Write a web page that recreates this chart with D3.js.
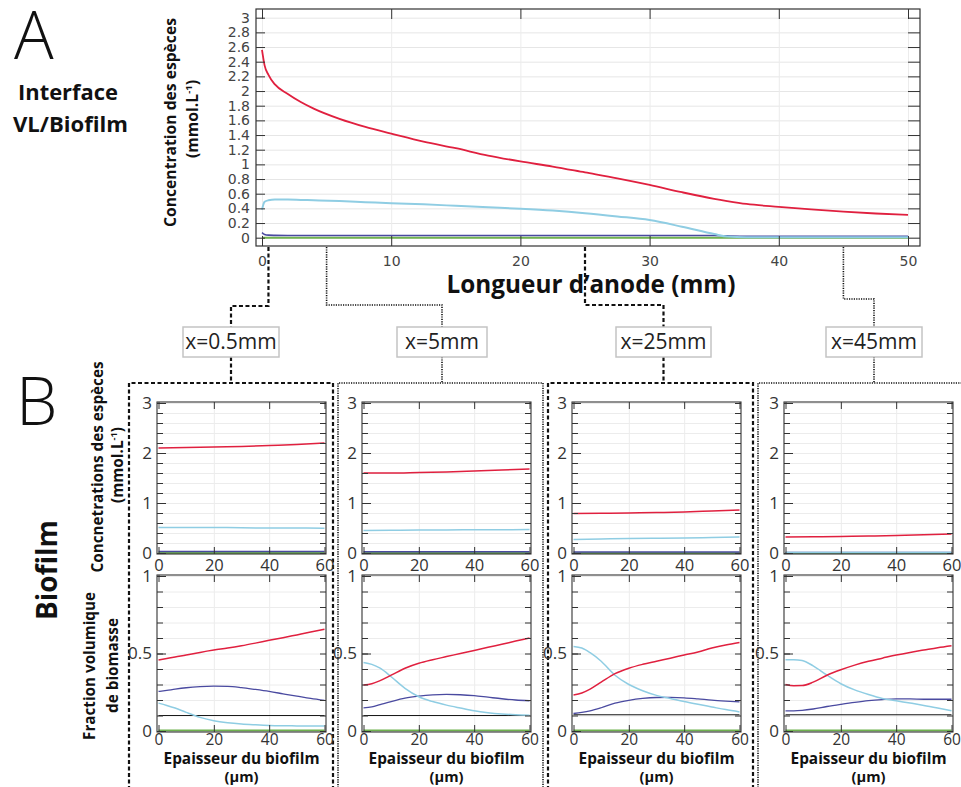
<!DOCTYPE html>
<html><head><meta charset="utf-8">
<script src="https://cdn.jsdelivr.net/npm/d3@7"></script>
<style>body{margin:0;background:#fff}svg{display:block}</style>
</head><body>
<svg id="c" width="961" height="787"></svg>
<script>
// ---------- Panel A data (anode length, mm) ----------
const anodeX     = [0,0.2,0.5,1,2,3,4,6,8,10,12.5,15,17.5,20,22.5,25,27.5,30,32.5,35,36,37.5,40,42.5,45,47.5,50];
const anodeRed   = [2.56,2.35,2.22,2.09,1.96,1.85,1.76,1.62,1.51,1.42,1.31,1.22,1.12,1.04,0.97,0.89,0.81,0.72,0.62,0.53,0.50,0.46,0.42,0.385,0.355,0.33,0.31];
const anodeCyan  = [0.38,0.49,0.51,0.52,0.52,0.515,0.51,0.50,0.485,0.47,0.455,0.435,0.415,0.395,0.37,0.335,0.29,0.24,0.15,0.05,0.015,0.005,0.005,0.005,0.005,0.005,0.005];
const anodeNavy  = [0.07,0.045,0.035,0.032,0.03,0.03,0.03,0.03,0.03,0.03,0.03,0.03,0.03,0.03,0.03,0.03,0.03,0.03,0.03,0.03,0.025,0.02,0.02,0.02,0.02,0.02,0.02];
const anodeGreen = [0,0,0,0,0,0,0,0,0,0,0,0,0,0,0,0,0,0,0,0,0,0,0,0,0,0,0];
const anodeXTicks = [0,10,20,30,40,50];
const anodeYTicks = [0,0.2,0.4,0.6,0.8,1,1.2,1.4,1.6,1.8,2,2.2,2.4,2.6,2.8,3];

// ---------- Panel B data ----------
const positionLabels = ["x=0.5mm","x=5mm","x=25mm","x=45mm"];
const positionValues = [0.5,5,25,45];
const depthTicks = [0,20,40,60];

// concentrations along biofilm depth (µm)
const depthConc = [0,10,20,30,40,50,60];
const concRed = [
  [2.10,2.11,2.12,2.13,2.15,2.17,2.20],
  [1.60,1.60,1.61,1.62,1.64,1.66,1.68],
  [0.79,0.795,0.80,0.81,0.82,0.84,0.86],
  [0.32,0.325,0.33,0.34,0.35,0.365,0.38]];
const concCyan = [
  [0.51,0.51,0.51,0.505,0.50,0.50,0.495],
  [0.45,0.455,0.46,0.46,0.465,0.465,0.47],
  [0.27,0.28,0.29,0.295,0.30,0.31,0.32],
  [0.01,0.01,0.01,0.01,0.01,0.01,0.01]];
const concNavy = [
  [0.03,0.03,0.03,0.03,0.03,0.03,0.03],
  [0.025,0.025,0.025,0.025,0.025,0.025,0.025],
  [0.02,0.02,0.02,0.02,0.02,0.02,0.02],
  [0.01,0.01,0.01,0.01,0.01,0.01,0.01]];
const concGreen = [
  [0,0,0,0,0,0,0],[0,0,0,0,0,0,0],[0,0,0,0,0,0,0],[0,0,0,0,0,0,0]];
const concYTicks = [0,1,2,3];
const concYMinor = [0,0.2,0.4,0.6,0.8,1,1.2,1.4,1.6,1.8,2,2.2,2.4,2.6,2.8,3];

// biomass volume fractions along biofilm depth (µm)
const depthFrac = [0,3,6,10,15,20,25,30,35,40,45,50,55,60];
const fracRed = [
  [0.458,0.468,0.478,0.49,0.507,0.522,0.535,0.55,0.567,0.585,0.602,0.62,0.638,0.657],
  [0.297,0.305,0.325,0.36,0.405,0.437,0.46,0.48,0.50,0.52,0.54,0.56,0.58,0.60],
  [0.232,0.245,0.27,0.315,0.37,0.405,0.43,0.45,0.47,0.49,0.51,0.535,0.555,0.571],
  [0.30,0.292,0.293,0.315,0.36,0.395,0.425,0.45,0.47,0.49,0.507,0.522,0.537,0.55]];
const fracCyan = [
  [0.18,0.165,0.148,0.12,0.088,0.066,0.053,0.045,0.04,0.036,0.034,0.033,0.032,0.032],
  [0.442,0.43,0.405,0.35,0.275,0.221,0.19,0.167,0.148,0.13,0.118,0.11,0.105,0.102],
  [0.545,0.535,0.505,0.45,0.36,0.30,0.26,0.23,0.21,0.19,0.172,0.155,0.138,0.123],
  [0.46,0.46,0.455,0.42,0.36,0.305,0.265,0.235,0.21,0.195,0.18,0.165,0.148,0.13]];
const fracNavy = [
  [0.255,0.262,0.27,0.279,0.286,0.289,0.288,0.28,0.268,0.255,0.24,0.225,0.21,0.197],
  [0.149,0.155,0.17,0.19,0.212,0.225,0.233,0.236,0.234,0.228,0.218,0.208,0.20,0.195],
  [0.113,0.12,0.13,0.15,0.18,0.198,0.21,0.216,0.217,0.214,0.207,0.199,0.193,0.188],
  [0.13,0.13,0.133,0.142,0.158,0.172,0.185,0.196,0.203,0.207,0.207,0.205,0.205,0.205]];
const fracBlack = [
  [0.1,0.1,0.1,0.1,0.1,0.1,0.1,0.1,0.1,0.1,0.1,0.1,0.1,0.1],
  [0.1,0.1,0.1,0.1,0.1,0.1,0.1,0.1,0.1,0.1,0.1,0.1,0.1,0.1],
  [0.105,0.105,0.105,0.105,0.105,0.105,0.105,0.105,0.105,0.105,0.105,0.105,0.105,0.105],
  [0.105,0.105,0.105,0.105,0.105,0.105,0.105,0.105,0.105,0.105,0.105,0.105,0.105,0.105]];
const fracGreen = [
  [0.004,0.004,0.004,0.004,0.004,0.004,0.004,0.004,0.004,0.004,0.004,0.004,0.004,0.004],
  [0.004,0.004,0.004,0.004,0.004,0.004,0.004,0.004,0.004,0.004,0.004,0.004,0.004,0.004],
  [0.004,0.004,0.004,0.004,0.004,0.004,0.004,0.004,0.004,0.004,0.004,0.004,0.004,0.004],
  [0.004,0.004,0.004,0.004,0.004,0.004,0.004,0.004,0.004,0.004,0.004,0.004,0.004,0.004]];
const fracYTicks = [0,0.5,1];
const fracYMinor = [0,0.1,0.2,0.3,0.4,0.5,0.6,0.7,0.8,0.9,1];

// ---------- styles ----------
const C_RED = "#e0203f", C_CYAN = "#8fcde3", C_NAVY = "#4a4aa0", C_GREEN = "#6fb24f", C_BLACK = "#1a1a1a";
const SANS = "'Open Sans', 'DejaVu Sans', sans-serif";
const svg = d3.select("#c");

function fit(sel, w) {
  const len = sel.node().getComputedTextLength();
  const fs = parseFloat(sel.attr("font-size"));
  if (len > 0) sel.attr("font-size", (fs * w / len).toFixed(2));
  return sel;
}
function vtext(x, yc, str, size, w, weight) {
  const t = svg.append("text").attr("transform", `translate(${x},${yc}) rotate(-90)`)
    .attr("text-anchor", "middle").attr("dy", "0.36em")
    .attr("font-family", SANS).attr("font-weight", weight || "bold")
    .attr("font-size", size).attr("fill", "#111").text(str);
  if (w) fit(t, w);
  return t;
}
function vtextUnit(x, yc, size, w) {
  const t = svg.append("text").attr("transform", `translate(${x},${yc}) rotate(-90)`)
    .attr("text-anchor", "middle").attr("dy", "0.36em")
    .attr("font-family", SANS).attr("font-weight", "bold")
    .attr("font-size", size).attr("fill", "#111");
  t.append("tspan").text("(mmol.L");
  t.append("tspan").attr("font-size", "60%").attr("dy", "-0.55em").text("-1");
  t.append("tspan").attr("dy", "0.33em").text(")");
  if (w) fit(t, w);
  return t;
}
function clean(g) { g.select(".domain").remove(); }

// ================= Panel A =================
const A = {left: 256, right: 920, top: 9, bottom: 246};
const xA = d3.scaleLinear().domain([0, 50]).range([262, 908]);
const yA = d3.scaleLinear().domain([0, 3]).range([237.7, 17.7]);

// grid
svg.append("g").attr("transform", `translate(${A.left},0)`)
  .call(d3.axisLeft(yA).tickValues(anodeYTicks).tickSize(-(A.right - A.left)).tickFormat(""))
  .call(clean).selectAll("line").attr("stroke", "#e6e6e6");
svg.append("g").attr("transform", `translate(0,${A.bottom})`)
  .call(d3.axisBottom(xA).tickValues(anodeXTicks).tickSize(-(A.bottom - A.top)).tickFormat(""))
  .call(clean).selectAll("line").attr("stroke", "#ececec");

// data
const lineA = vals => d3.line().x((d, i) => xA(anodeX[i])).y(d => yA(d)).curve(d3.curveMonotoneX)(vals);
[[anodeGreen, C_GREEN, 2], [anodeNavy, C_NAVY, 1.6], [anodeCyan, C_CYAN, 2], [anodeRed, C_RED, 1.8]]
  .forEach(([v, c, w]) => svg.append("path").attr("d", lineA(v)).attr("fill", "none").attr("stroke", c).attr("stroke-width", w));

// frame
svg.append("rect").attr("x", A.left).attr("y", A.top).attr("width", A.right - A.left).attr("height", A.bottom - A.top)
  .attr("fill", "none").attr("stroke", "#333").attr("stroke-width", 1.2);

// ticks + labels
const axA = svg.append("g");
axA.append("g").attr("transform", `translate(${A.left},0)`)
  .call(d3.axisLeft(yA).tickValues(anodeYTicks).tickSize(-9).tickPadding(6).tickFormat(d3.format("~g")))
  .call(clean).call(g => { g.selectAll("line").attr("stroke", "#333"); g.selectAll("text").attr("font-size", 14).attr("fill", "#444").attr("font-family", "'DejaVu Sans', sans-serif"); });
axA.append("g").attr("transform", `translate(${A.right},0)`)
  .call(d3.axisRight(yA).tickValues(anodeYTicks).tickSize(-12).tickFormat(""))
  .call(clean).selectAll("line").attr("stroke", "#333");
axA.append("g").attr("transform", `translate(0,${A.bottom})`)
  .call(d3.axisBottom(xA).tickValues(anodeXTicks).tickSize(-10).tickPadding(10).tickFormat(d3.format("d")))
  .call(clean).call(g => { g.selectAll("line").attr("stroke", "#333"); g.selectAll("text").attr("font-size", 14).attr("fill", "#444").attr("font-family", "'DejaVu Sans', sans-serif"); });
axA.append("g").attr("transform", `translate(0,${A.top})`)
  .call(d3.axisTop(xA).tickValues(anodeXTicks).tickSize(-10).tickFormat(""))
  .call(clean).selectAll("line").attr("stroke", "#333");

// titles A
vtext(170, 122.5, "Concentration des espèces", 13, 209);
vtextUnit(192, 119, 13, 78);
fit(svg.append("text").attr("x", 591).attr("y", 293).attr("text-anchor", "middle")
  .attr("font-family", SANS).attr("font-weight", "bold").attr("font-size", 24).attr("fill", "#111")
  .text("Longueur d’anode (mm)"), 289);
svg.append("text").attr("x", 14).attr("y", 59).attr("font-family", SANS).attr("font-weight", 300)
  .attr("font-size", 66).attr("fill", "#111").text("A");
fit(svg.append("text").attr("x", 68).attr("y", 100).attr("text-anchor", "middle").attr("font-family", SANS)
  .attr("font-weight", "bold").attr("font-size", 20).attr("fill", "#111").text("Interface"), 100);
fit(svg.append("text").attr("x", 70.5).attr("y", 132).attr("text-anchor", "middle").attr("font-family", SANS)
  .attr("font-weight", "bold").attr("font-size", 20).attr("fill", "#111").text("VL/Biofilm"), 115);

// ================= Connectors & position boxes =================
const boxes = [{x: 183, w: 96}, {x: 397, w: 90}, {x: 616, w: 95}, {x: 826, w: 96}];
const connY = [306, 305, 305, 299];
const dashed = {w: 2.2, d: "4,2.5"}, dotted = {w: 1.6, d: "1.2,1.2"};
const styles = [dashed, dotted, dashed, dotted];
positionValues.forEach((pv, i) => {
  const st = styles[i], bx = boxes[i], cx = bx.x + bx.w / 2, px = xA(pv);
  svg.append("path").attr("d", `M${px},${A.bottom + 1}V${connY[i]}H${cx}V327`)
    .attr("fill", "none").attr("stroke", "#111").attr("stroke-width", st.w).attr("stroke-dasharray", st.d);
  svg.append("path").attr("d", `M${cx},357V383`)
    .attr("fill", "none").attr("stroke", "#111").attr("stroke-width", st.w).attr("stroke-dasharray", st.d);
  svg.append("rect").attr("x", bx.x).attr("y", 327).attr("width", bx.w).attr("height", 30)
    .attr("fill", "#fff").attr("stroke", "#c4c4c4").attr("stroke-width", 1.5);
  svg.append("text").attr("x", cx).attr("y", 349).attr("text-anchor", "middle").attr("font-family", SANS)
    .attr("font-size", 21).attr("fill", "#222").text(positionLabels[i]);
});

// panel dashed boxes
const panelBoxes = [{l: 129, r: 333}, {l: 338, r: 543}, {l: 548, r: 753}, {l: 758, r: 970}];
panelBoxes.forEach((pb, i) => {
  const st = styles[i];
  svg.append("path").attr("d", `M${pb.l},790V383H${pb.r}V790`)
    .attr("fill", "none").attr("stroke", "#111").attr("stroke-width", st.w).attr("stroke-dasharray", st.d);
});

// ================= Panel B small plots =================
const panelLefts = [157, 362, 572, 784];
const PW = 169;

function smallPlot(L, fy0, fy1, yDom, yMajor, yMinor, xs, series, xLabY, xLabSize) {
  const x = d3.scaleLinear().domain([0, 60]).range([L + 1.5, L + PW - 1.5]);
  const y = d3.scaleLinear().domain(yDom).range([fy1 - 1, fy0 + 1]);
  const g = svg.append("g");
  g.append("rect").attr("x", L).attr("y", fy0).attr("width", PW).attr("height", fy1 - fy0).attr("fill", "#fff");
  // grid
  g.append("g").attr("transform", `translate(${L},0)`)
    .call(d3.axisLeft(y).tickValues(yMinor).tickSize(-PW).tickFormat(""))
    .call(clean).selectAll("line").attr("stroke", "#ececec");
  g.append("g").attr("transform", `translate(0,${fy1})`)
    .call(d3.axisBottom(x).tickValues([20, 40]).tickSize(-(fy1 - fy0)).tickFormat(""))
    .call(clean).selectAll("line").attr("stroke", "#ececec");
  // series
  series.forEach(s => {
    g.append("path").attr("d", d3.line().x((d, i) => x(xs[i])).y(d => y(d)).curve(d3.curveMonotoneX)(s.v))
      .attr("fill", "none").attr("stroke", s.c).attr("stroke-width", s.w);
  });
  // frame
  g.append("rect").attr("x", L).attr("y", fy0).attr("width", PW).attr("height", fy1 - fy0)
    .attr("fill", "none").attr("stroke", "#333").attr("stroke-width", 1.1);
  // ticks
  const tk = (gen, t) => g.append("g").attr("transform", t).call(gen).call(clean)
    .call(s => { s.selectAll("line").attr("stroke", "#333"); });
  tk(d3.axisLeft(y).tickValues(yMinor).tickSize(-6).tickFormat(""), `translate(${L},0)`);
  tk(d3.axisRight(y).tickValues(yMinor).tickSize(-6).tickFormat(""), `translate(${L + PW},0)`);
  tk(d3.axisTop(x).tickValues(depthTicks).tickSize(-7).tickFormat(""), `translate(0,${fy0})`);
  // labelled axes
  g.append("g").attr("transform", `translate(${L},0)`)
    .call(d3.axisLeft(y).tickValues(yMajor).tickSize(-9).tickPadding(5).tickFormat(d3.format("~g")))
    .call(clean).call(s => {
      s.selectAll("line").attr("stroke", "#333");
      s.selectAll("text").attr("font-family", SANS).attr("font-size", 17).attr("fill", "#333");
    });
  g.append("g").attr("transform", `translate(0,${fy1})`)
    .call(d3.axisBottom(x).tickValues(depthTicks).tickSize(-7).tickPadding(0).tickFormat(d3.format("d")))
    .call(clean).call(s => {
      s.selectAll("line").attr("stroke", "#333");
      s.selectAll("text").attr("font-family", SANS).attr("font-size", xLabSize).attr("fill", "#333")
        .attr("dy", null).attr("y", xLabY - fy1);
    });
}

panelLefts.forEach((L, i) => {
  smallPlot(L, 402, 554, [0, 3], concYTicks, concYMinor, depthConc, [
    {v: concGreen[i], c: C_GREEN, w: 1.8},
    {v: concNavy[i], c: C_NAVY, w: 1.3},
    {v: concCyan[i], c: C_CYAN, w: 1.5},
    {v: concRed[i], c: C_RED, w: 1.5}], 571, 16.5);
  smallPlot(L, 575, 732, [0, 1], fracYTicks, fracYMinor, depthFrac, [
    {v: fracGreen[i], c: C_GREEN, w: 1.8},
    {v: fracBlack[i], c: C_BLACK, w: 1.1},
    {v: fracNavy[i], c: C_NAVY, w: 1.3},
    {v: fracCyan[i], c: C_CYAN, w: 1.5},
    {v: fracRed[i], c: C_RED, w: 1.5}], 744.5, 15.5);
  const cx = L + PW / 2;
  fit(svg.append("text").attr("x", cx).attr("y", 763.5).attr("text-anchor", "middle").attr("font-family", SANS)
    .attr("font-weight", "bold").attr("font-size", 15).attr("fill", "#111").text("Epaisseur du biofilm"), 156);
  fit(svg.append("text").attr("x", cx).attr("y", 781.5).attr("text-anchor", "middle").attr("font-family", SANS)
    .attr("font-weight", "bold").attr("font-size", 15).attr("fill", "#111").text("(µm)"), 34);
});

// B titles
svg.append("text").attr("x", 16).attr("y", 425).attr("font-family", SANS).attr("font-weight", 300)
  .attr("font-size", 66).attr("fill", "#111").text("B");
vtext(47, 570, "Biofilm", 28, 100);
vtext(97, 467, "Concnetrations des espèces", 14, 211);
vtextUnit(117, 465, 13, 76);
vtext(90, 666, "Fraction volumique", 14, 148);
vtext(112.5, 665.5, "de biomasse", 14, 95);
</script>
</body></html>
